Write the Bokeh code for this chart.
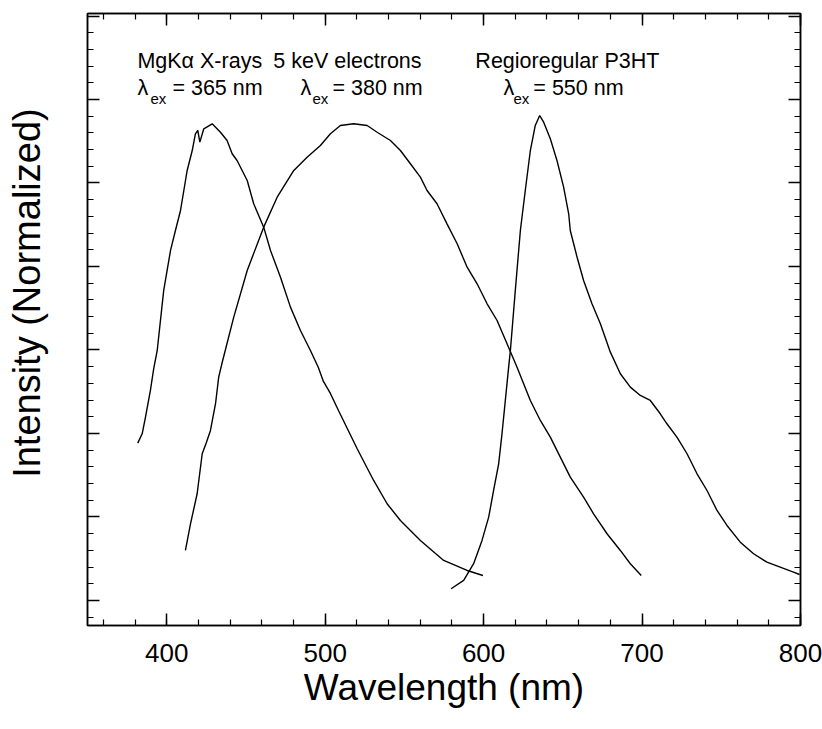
from bokeh.plotting import figure
from bokeh.models import LinearAxis, SingleIntervalTicker, Label, Range1d, CustomJSTickFormatter
from bokeh.embed import file_html
from bokeh.resources import INLINE

# ---- data (wavelength in nm, intensity in arbitrary normalized units) ----
xray_wl = [381.7, 384.5, 386.6, 389.7, 391.8, 394.0, 398.1, 402.4, 405.5, 408.7,
           410.8, 412.9, 416.1, 418.1, 419.6, 420.9, 423.4, 428.7, 433.9, 438.1,
           441.3, 444.4, 450.8, 454.9, 461.2, 465.5, 471.8, 478.1, 484.4, 490.7,
           495.7, 498.9, 503.3, 508.4, 511.5, 520.2, 530.6, 539.1, 547.5, 560.1,
           574.8, 589.6, 599.6]
xray_int = [1.884, 1.996, 2.195, 2.515, 2.778, 2.994, 3.713, 4.192, 4.431, 4.671,
            4.910, 5.150, 5.389, 5.589, 5.629, 5.489, 5.649, 5.709, 5.608, 5.509,
            5.350, 5.269, 5.030, 4.751, 4.471, 4.192, 3.872, 3.513, 3.234, 2.994,
            2.790, 2.623, 2.479, 2.275, 2.156, 1.817, 1.437, 1.158, 0.958, 0.719,
            0.479, 0.359, 0.299]

elec_wl = [411.8, 415.0, 419.2, 422.4, 425.1, 427.6, 430.8, 432.8, 435.0, 442.3,
           450.8, 461.2, 469.7, 480.2, 488.6, 497.0, 503.3, 509.6, 518.0, 526.5,
           532.8, 541.2, 547.5, 553.8, 560.1, 564.3, 570.6, 576.9, 583.3, 589.6,
           595.9, 602.2, 608.5, 614.8, 621.1, 629.5, 635.8, 642.1, 648.4, 654.7,
           663.1, 669.4, 677.9, 686.3, 692.6, 699.5]
elec_int = [0.599, 0.918, 1.278, 1.757, 1.896, 2.036, 2.356, 2.674, 2.850, 3.393,
            3.952, 4.471, 4.830, 5.150, 5.309, 5.449, 5.589, 5.689, 5.709, 5.689,
            5.608, 5.509, 5.389, 5.230, 5.070, 4.910, 4.751, 4.511, 4.272, 3.992,
            3.793, 3.553, 3.353, 3.074, 2.794, 2.395, 2.156, 1.956, 1.716, 1.477,
            1.237, 1.038, 0.799, 0.599, 0.440, 0.299]

p3ht_wl = [579.5, 587.4, 593.7, 599.0, 603.2, 606.3, 609.5, 611.6, 613.7, 615.8,
           616.9, 620.0, 623.2, 626.3, 629.5, 632.6, 635.4, 637.9, 642.1, 646.3,
           650.5, 653.7, 654.7, 659.0, 663.1, 668.4, 673.7, 680.0, 686.3, 692.6,
           698.9, 705.2, 711.5, 715.7, 722.0, 728.4, 734.7, 741.0, 747.3, 753.6,
           762.0, 770.4, 778.8, 787.2, 795.6, 799.4]
p3ht_int = [0.140, 0.240, 0.440, 0.719, 0.998, 1.317, 1.637, 1.996, 2.395, 2.794,
            2.994, 3.713, 4.431, 4.910, 5.389, 5.689, 5.808, 5.728, 5.529, 5.269,
            4.950, 4.631, 4.431, 4.111, 3.832, 3.553, 3.314, 2.974, 2.715, 2.555,
            2.455, 2.395, 2.236, 2.116, 1.956, 1.757, 1.517, 1.317, 1.078, 0.898,
            0.698, 0.559, 0.459, 0.399, 0.339, 0.311]

FONT = "Liberation Sans"

p = figure(width=822, height=729, x_range=Range1d(350, 800), y_range=Range1d(-0.3, 7.03),
           output_backend="svg", toolbar_location=None,
           min_border_left=87, min_border_right=22, min_border_top=13, min_border_bottom=104)
p.background_fill_color = "white"
p.border_fill_color = "white"
p.outline_line_color = "black"
p.outline_line_width = 1.5
p.xgrid.visible = False
p.ygrid.visible = False

for wl, it in [(xray_wl, xray_int), (elec_wl, elec_int), (p3ht_wl, p3ht_int)]:
    p.line(wl, it, line_color="black", line_width=1.4)

blank = CustomJSTickFormatter(code="return ''")

def style(ax, labels=False):
    ax.axis_line_color = "black"
    ax.axis_line_width = 1.5
    ax.major_tick_in = 12
    ax.major_tick_out = 0
    ax.minor_tick_in = 6
    ax.minor_tick_out = 0
    ax.major_tick_line_color = "black"
    ax.minor_tick_line_color = "black"
    ax.major_tick_line_width = 1.5
    ax.minor_tick_line_width = 1.2
    if not labels:
        ax.formatter = blank
        ax.major_label_standoff = 0

xa = p.xaxis[0]
xa.ticker = SingleIntervalTicker(interval=100, num_minor_ticks=5)
style(xa, labels=True)
xa.axis_label = "Wavelength (nm)"
xa.axis_label_text_font = FONT
xa.axis_label_text_font_size = "37px"
xa.axis_label_text_font_style = "normal"
xa.axis_label_text_color = "black"
xa.axis_label_standoff = 2
xa.major_label_text_font = FONT
xa.major_label_text_font_size = "26px"
xa.major_label_text_color = "black"
xa.major_label_standoff = 18

ya = p.yaxis[0]
ya.ticker = SingleIntervalTicker(interval=1, num_minor_ticks=5)
style(ya)
# leading no-break spaces lift the title a little above the frame centre, as in the original
ya.axis_label = "\u00a0\u00a0\u00a0\u00a0\u00a0Intensity (Normalized)"
ya.axis_label_text_font = FONT
ya.axis_label_text_font_size = "38px"
ya.axis_label_text_font_style = "normal"
ya.axis_label_text_color = "black"
ya.axis_label_standoff = 40

ra = LinearAxis(ticker=SingleIntervalTicker(interval=1, num_minor_ticks=5))
style(ra)
p.add_layout(ra, "right")

ta = LinearAxis(ticker=SingleIntervalTicker(interval=100, num_minor_ticks=5))
style(ta)
p.add_layout(ta, "above")

def lab(x, y, text, size="21.5px"):
    p.add_layout(Label(x=x, y=y, text=text, text_font=FONT, text_font_size=size,
                       text_color="black", text_baseline="alphabetic", text_align="left"))

# header lines
lab(381.5, 6.467, "MgKα X-rays")
lab(467.3, 6.467, "5 keV electrons")
lab(594.8, 6.467, "Regioregular P3HT")
# excitation lines
for lx, sx, ex, txt in [(381.5, 389.7, 403.6, "= 365 nm"),
                        (484.4, 492.0, 504.6, "= 380 nm"),
                        (612.5, 618.8, 631.4, "= 550 nm")]:
    lab(lx, 6.132, "λ")
    lab(sx, 6.012, "ex", size="15px")
    lab(ex, 6.132, txt)

open("out.html", "w").write(file_html(p, INLINE))
